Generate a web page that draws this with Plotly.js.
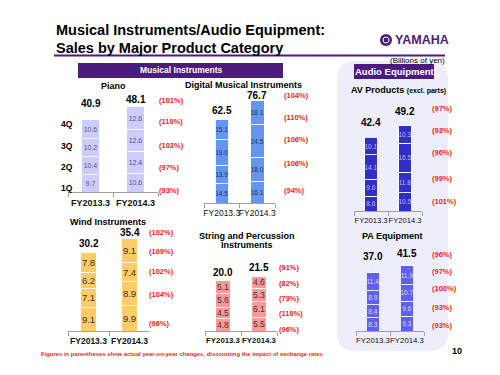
<!DOCTYPE html>
<html><head><meta charset="utf-8">
<script src="https://cdn.plot.ly/plotly-3.0.1.min.js"></script>
<style>html,body{margin:0;padding:0;background:#fff;}#chart{width:500px;height:375px;}</style>
</head><body><div id="chart"></div>
<script>
// ---------- DATA (billions of yen) ----------
const years = ["FY2013.3", "FY2014.3"];
const quarterLabels = ["1Q", "2Q", "3Q", "4Q"];

// Quarterly values Q1..Q4
const pianoFY2013 = [9.7, 10.4, 10.2, 10.6];
const pianoFY2014 = [10.6, 12.4, 12.6, 12.6];
const pianoTotals = [40.9, 48.1];
const pianoYoY = [93, 97, 103, 110];
const pianoYoYTotal = 101;

const digitalFY2013 = [14.5, 13.9, 19.0, 15.1];
const digitalFY2014 = [16.1, 18.0, 24.5, 18.1];
const digitalTotals = [62.5, 76.7];
const digitalYoY = [94, 106, 106, 110];
const digitalYoYTotal = 104;

const avFY2013 = [8.6, 9.6, 14.1, 10.1];
const avFY2014 = [10.5, 11.8, 16.5, 10.3];
const avTotals = [42.4, 49.2];
const avYoY = [101, 99, 96, 93];
const avYoYTotal = 97;

const windFY2013 = [9.1, 7.1, 6.2, 7.8];
const windFY2014 = [9.9, 8.9, 7.4, 9.1];
const windTotals = [30.2, 35.4];
const windYoY = [96, 104, 102, 109];
const windYoYTotal = 102;

const stringFY2013 = [4.8, 4.5, 5.6, 5.1];
const stringFY2014 = [5.5, 6.1, 5.3, 4.6];
const stringTotals = [20.0, 21.5];
const stringYoY = [96, 110, 79, 82];
const stringYoYTotal = 91;

const paFY2013 = [8.3, 8.4, 8.9, 11.4];
const paFY2014 = [9.3, 9.6, 10.7, 11.9];
const paTotals = [37.0, 41.5];
const paYoY = [93, 93, 100, 97];
const paYoYTotal = 96;

// ---------- LAYOUT / STYLE ----------
const W = 500, H = 375;
const PURPLE = '#4B1C7E';
const RED = '#FF1A1A';
const FONT = 'Liberation Sans, Arial, sans-serif';
const px = x => x / W;
const py = y => 1 - y / H;

const panels = [
  {titles:[['<b>Piano</b>', 113, 86]], a:pianoFY2013, b:pianoFY2014, tot:pianoTotals, yoy:pianoYoY, yoyTot:pianoYoYTotal,
   color:'#CCCCFF', txt:'#55557a', tsize:7, xl:68, xr:158, yb:192, ppu:1.765, bw:0.38, tickBold:true, tickSize:9,
   totShift:[16,7], pctX:157, pctY:[101,122,145,168,190]},
  {titles:[['<b>Digital Musical Instruments</b>', 243, 85]], a:digitalFY2013, b:digitalFY2014, tot:digitalTotals, yoy:digitalYoY, yoyTot:digitalYoYTotal,
   color:'#6495F0', txt:'#1f2f66', tsize:6.5, xl:204, xr:275, yb:203, ppu:1.335, bw:0.38, tickBold:false, tickSize:8.5,
   totShift:[9,5], pctX:282, pctY:[95,117,140,163,190]},
  {titles:[['<b>AV Products</b> <b><span style="font-size:7px">(excl. parts)</span></b>', 398, 90]], a:avFY2013, b:avFY2014, tot:avTotals, yoy:avYoY, yoyTot:avYoYTotal,
   color:'#3030C8', txt:'#b8b8f0', tsize:6.5, xl:354, xr:422, yb:211, ppu:1.74, bw:0.38, tickBold:false, tickSize:7.6,
   totShift:[15,14], pctX:430, pctY:[108,130,152,178,202]},
  {titles:[['<b>Wind Instruments</b>', 108, 222]], a:windFY2013, b:windFY2014, tot:windTotals, yoy:windYoY, yoyTot:windYoYTotal,
   color:'#FFCC66', txt:'#333333', tsize:9.5, xl:68, xr:150, yb:331, ppu:2.615, bw:0.39, tickBold:true, tickSize:8.5,
   totShift:[9,6], pctX:147, pctY:[233,251,271,294,323]},
  {titles:[['<b>String and Percussion</b>', 247, 236], ['<b>Instruments</b>', 247, 244.5]], a:stringFY2013, b:stringFY2014, tot:stringTotals, yoy:stringYoY, yoyTot:stringYoYTotal,
   color:'#FF9999', txt:'#333333', tsize:8.5, xl:205, xr:277, yb:331, ppu:2.53, bw:0.39, tickBold:true, tickSize:7.8,
   totShift:[8,9], pctX:277, pctY:[267,283,298,313,329]},
  {titles:[['<b>PA Equipment</b>', 392, 236]], a:paFY2013, b:paFY2014, tot:paTotals, yoy:paYoY, yoyTot:paYoYTotal,
   color:'#6060EC', txt:'#dcdcff', tsize:6.5, xl:356, xr:424, yb:331, ppu:1.57, bw:0.41, tickBold:false, tickSize:7.8,
   totShift:[16,12], pctX:430, pctY:[254,271,288,307,325]}
];

const data = [];
const layout = {
  width: W, height: H, autosize: false,
  margin: {l:0, r:0, t:0, b:0, pad:0},
  paper_bgcolor: '#ffffff', plot_bgcolor: 'rgba(0,0,0,0)',
  barmode: 'stack', showlegend: false,
  font: {family: FONT, color: '#000'},
  shapes: [], annotations: []
};

function rr(x0, y0, x1, y1, r) {
  const P = (x, y) => px(x).toFixed(5) + ',' + py(y).toFixed(5);
  return 'M' + P(x0 + r, y0) + ' L' + P(x1 - r, y0) + ' Q' + P(x1, y0) + ' ' + P(x1, y0 + r) +
         ' L' + P(x1, y1 - r) + ' Q' + P(x1, y1) + ' ' + P(x1 - r, y1) +
         ' L' + P(x0 + r, y1) + ' Q' + P(x0, y1) + ' ' + P(x0, y1 - r) +
         ' L' + P(x0, y0 + r) + ' Q' + P(x0, y0) + ' ' + P(x0 + r, y0) + ' Z';
}

// background shapes
layout.shapes.push({type:'path', xref:'paper', yref:'paper', layer:'below', path: rr(337, 61, 448, 351, 18),
  fillcolor:'#EEEEFB', line:{width:0}});
layout.shapes.push({type:'line', xref:'paper', yref:'paper', x0:px(54), x1:px(445), y0:py(55.5), y1:py(55.5),
  line:{color:PURPLE, width:2}});
layout.shapes.push({type:'rect', xref:'paper', yref:'paper', x0:px(78), x1:px(283), y0:py(63), y1:py(78),
  fillcolor:PURPLE, line:{width:0}});
layout.shapes.push({type:'rect', xref:'paper', yref:'paper', x0:px(354), x1:px(434), y0:py(64), y1:py(79),
  fillcolor:PURPLE, line:{width:0}});
// YAMAHA emblem
layout.shapes.push({type:'circle', xref:'paper', yref:'paper', x0:px(380), x1:px(392), y0:py(34), y1:py(46),
  fillcolor:PURPLE, line:{width:0}});
layout.shapes.push({type:'circle', xref:'paper', yref:'paper', x0:px(383), x1:px(389), y0:py(37), y1:py(43),
  fillcolor:'rgba(0,0,0,0)', line:{color:'#ffffff', width:1}});

function ann(text, x, y, opts) {
  layout.annotations.push(Object.assign({text, x:px(x), y:py(y), xref:'paper', yref:'paper',
    showarrow:false, xanchor:'center', yanchor:'middle', font:{family:FONT, size:9, color:'#000'}}, opts || {}));
}

// Header texts
ann('<b>Musical Instruments/Audio Equipment:</b>', 54, 30, {xanchor:'left', font:{family:FONT, size:14.5, color:'#000'}});
ann('<b>Sales by Major Product Category</b>', 54, 47.5, {xanchor:'left', font:{family:FONT, size:14.5, color:'#000'}});
ann('<b>YAMAHA</b>', 393, 40, {xanchor:'left', font:{family:FONT, size:12.5, color:PURPLE}});
ann('(Billions of yen)', 447, 60, {xanchor:'right', font:{family:FONT, size:8, color:'#000'}});
ann('<b>Musical Instruments</b>', 180.5, 70.5, {font:{family:FONT, size:8.5, color:'#fff'}});
ann('<b>Audio Equipment</b>', 394, 71.5, {font:{family:FONT, size:9.5, color:'#fff'}});
ann('<b>Figures in parentheses show actual year-on-year changes, discounting the impact of exchange rates</b>', 39, 354,
  {xanchor:'left', font:{family:FONT, size:5.9, color:RED}});
ann('<b>10</b>', 457, 351, {font:{family:FONT, size:9, color:'#000'}});

// quarter labels next to piano
const quarterY = [188, 167, 146, 124];
quarterLabels.forEach((q, i) => ann('<b>' + q + '</b>', 75, quarterY[i], {xanchor:'right', font:{family:FONT, size:8.5, color:'#000'}}));

panels.forEach((p, idx) => {
  const n = idx + 1;
  const xa = 'x' + n, ya = 'y' + n;
  const ytop = p.yb - 130;
  for (let q = 0; q < 4; q++) {
    const vals = [p.a[q], p.b[q]];
    data.push({type:'bar', x:years, y:vals, xaxis:xa, yaxis:ya, width:p.bw,
      marker:{color:p.color, line:{color:'rgba(255,255,255,0.85)', width:1}},
      text: vals.map(v => v.toFixed(1)), textposition:'inside', insidetextanchor:'middle', textangle:0,
      constraintext:'none', textfont:{family:FONT, size:p.tsize, color:p.txt},
      hoverinfo:'skip', showlegend:false, cliponaxis:false});
  }
  layout['xaxis' + n] = {domain:[px(p.xl), px(p.xr)], anchor:ya, type:'category', range:[-0.5, 1.5],
    showline:true, linecolor:'#a0a0a0', linewidth:1, ticks:'outside', tickson:'boundaries', ticklen:4, tickcolor:'#a0a0a0',
    tickangle:0, automargin:false, ticklabelstandoff:2,
    tickfont:{family:FONT, size:p.tickSize, color:'#111', weight:p.tickBold ? 'bold' : 'normal'},
    showgrid:false, zeroline:false, fixedrange:true};
  layout['yaxis' + n] = {domain:[py(p.yb), py(ytop)], anchor:xa, range:[0, (p.yb - ytop) / p.ppu],
    visible:false, showgrid:false, zeroline:false, fixedrange:true};
  // title
  p.titles.forEach(t => ann(t[0], t[1], t[2], {font:{family:FONT, size:9, color:'#000'}}));
  // totals above bars
  p.tot.forEach((t, i) => {
    const stackTop = (i === 0 ? p.a : p.b).reduce((s, v) => s + v, 0);
    layout.annotations.push({text:'<b>' + t.toFixed(1) + '</b>', x:years[i], y:stackTop, xref:xa, yref:ya,
      showarrow:false, xanchor:'center', yanchor:'middle', yshift:p.totShift[i],
      font:{family:FONT, size:10, color:'#000'}});
  });
  // YoY labels: total first, then Q4..Q1
  const yoyList = [p.yoyTot, p.yoy[3], p.yoy[2], p.yoy[1], p.yoy[0]];
  yoyList.forEach((v, i) => ann('<b>(' + v + '%)</b>', p.pctX, p.pctY[i], {xanchor:'left', font:{family:FONT, size:7.5, color:RED}}));
});

Plotly.newPlot('chart', data, layout, {staticPlot:true, displayModeBar:false});
</script></body></html>
